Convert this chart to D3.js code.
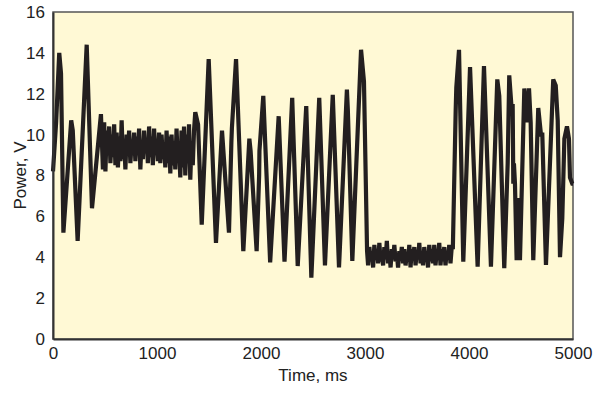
<!DOCTYPE html>
<html>
<head>
<meta charset="utf-8">
<script src="https://cdn.jsdelivr.net/npm/d3@7"></script>
<style>
  html, body { margin: 0; padding: 0; background: #fff; }
  svg { display: block; font-family: "Liberation Sans", Arial, sans-serif; }
</style>
</head>
<body>
<div id="chart"></div>
<script>
// Power trace, [time ms, volts]
const startSwings = [
  [0, 8.2], [30, 10.6], [60, 14.0], [77, 13.0], [100, 5.2], [175, 10.7], [190, 10.2],
  [237, 4.8], [324, 14.4], [375, 6.4], [461, 11.0]
]

const noiseHigh = [
  [480, 8.3], [492, 10.6], [504, 8.2], [516, 10.2], [528, 9.0], [540, 10.4], [552, 8.6],
  [564, 10.0], [576, 8.9], [588, 10.5], [600, 8.5], [612, 10.1], [624, 8.4], [636, 9.9],
  [648, 8.7], [660, 10.7], [672, 8.8], [684, 9.8], [696, 8.3], [708, 10.0], [720, 9.0],
  [732, 10.2], [744, 8.6], [756, 9.6], [768, 9.1], [780, 10.1], [792, 8.7], [804, 9.9],
  [816, 9.0], [828, 10.3], [840, 8.3], [852, 9.7], [864, 8.8], [876, 10.2], [888, 9.1],
  [900, 9.8], [912, 8.6], [924, 10.4], [936, 8.9], [948, 9.9], [960, 8.5], [972, 10.3],
  [984, 9.0], [996, 9.7], [1008, 8.7], [1020, 10.1], [1032, 8.6], [1044, 10.0], [1056, 8.8],
  [1068, 9.6], [1080, 8.4], [1092, 10.2], [1104, 8.6], [1116, 9.9], [1128, 8.1], [1140, 10.0],
  [1152, 8.5], [1164, 9.7], [1176, 8.3], [1188, 10.3], [1200, 8.7], [1212, 9.5], [1224, 7.9],
  [1236, 10.2], [1248, 8.4], [1260, 10.4], [1272, 8.0], [1284, 10.0], [1296, 8.6], [1308, 10.5],
  [1320, 7.8], [1332, 9.6], [1344, 8.5], [1356, 10.2]
]

const midSwings = [
  [1368, 11.1], [1395, 10.5], [1430, 5.6], [1497, 13.7], [1567, 4.7], [1625, 10.2],
  [1692, 5.2], [1715, 9.6], [1720, 10.3], [1760, 13.7], [1830, 4.3], [1888, 9.8],
  [1900, 9.2], [1958, 4.3], [1982, 8.0], [1985, 9.2], [2022, 11.9], [2088, 3.75],
  [2170, 10.9], [2226, 3.78], [2300, 11.8], [2353, 3.57], [2435, 11.4], [2484, 3.0],
  [2560, 11.8], [2615, 3.6], [2690, 11.95], [2750, 3.5], [2826, 12.2], [2835, 11.2],
  [2878, 3.82], [2962, 14.15], [2990, 12.6], [3020, 4.3]
]

const noiseLow = [
  [3030, 3.6], [3042, 4.5], [3054, 3.8], [3066, 4.3], [3078, 3.5], [3090, 4.6], [3102, 3.9],
  [3114, 4.4], [3126, 3.7], [3138, 4.7], [3150, 3.8], [3162, 4.2], [3174, 3.6], [3186, 4.5],
  [3198, 3.9], [3210, 4.8], [3222, 3.7], [3234, 4.3], [3246, 3.5], [3258, 4.4], [3270, 3.9],
  [3282, 4.6], [3294, 3.8], [3306, 4.2], [3318, 3.5], [3330, 4.3], [3342, 3.9], [3354, 4.5],
  [3366, 3.7], [3378, 4.4], [3390, 3.6], [3402, 4.2], [3414, 3.8], [3426, 4.6], [3438, 3.5],
  [3450, 4.4], [3462, 3.9], [3474, 4.5], [3486, 3.6], [3498, 4.3], [3510, 3.9], [3522, 4.7],
  [3534, 3.7], [3546, 4.3], [3558, 3.6], [3570, 4.5], [3582, 3.8], [3594, 4.2], [3606, 3.5],
  [3618, 4.6], [3630, 3.8], [3642, 4.4], [3654, 3.7], [3666, 4.6], [3678, 3.6], [3690, 4.3],
  [3702, 3.9], [3714, 4.7], [3726, 3.6], [3738, 4.4], [3750, 3.8], [3762, 4.5], [3774, 3.6],
  [3786, 4.3], [3798, 3.9], [3810, 4.6], [3822, 3.7], [3834, 4.5]
]

const endSwings = [
  [3845, 4.5], [3872, 11.2], [3878, 12.3], [3904, 14.15], [3945, 3.78], [4010, 13.3],
  [4083, 3.54], [4144, 13.36], [4211, 3.54], [4272, 12.7], [4291, 11.9], [4339, 3.46],
  [4372, 8.6], [4387, 12.9], [4408, 11.4], [4420, 11.4], [4426, 7.6], [4432, 8.6],
  [4442, 7.6], [4458, 3.86], [4471, 6.9], [4490, 3.86], [4532, 12.26], [4555, 10.6],
  [4577, 12.26], [4593, 10.6], [4618, 3.86], [4666, 11.3], [4692, 10.0], [4705, 10.0],
  [4740, 3.62], [4810, 12.7], [4834, 12.4], [4853, 10.7], [4875, 4.0], [4897, 5.9],
  [4917, 9.8], [4942, 10.4], [4961, 9.8], [4971, 7.9], [4993, 7.6], [5000, 7.6]
]

const xTicks = [0, 1000, 2000, 3000, 4000, 5000]
const yTicks = [0, 2, 4, 6, 8, 10, 12, 14, 16]

const trace = [...startSwings, ...noiseHigh, ...midSwings, ...noiseLow, ...endSwings]

const W = 600
const H = 394
const margin = { top: 12, right: 27, bottom: 55, left: 53 }
const innerW = W - margin.left - margin.right
const innerH = H - margin.top - margin.bottom

const svg = d3.select('#chart').append('svg')
  .attr('width', W)
  .attr('height', H)

const g = svg.append('g').attr('transform', `translate(${margin.left},${margin.top})`)

const x = d3.scaleLinear().domain([0, 5000]).range([0, innerW])
const y = d3.scaleLinear().domain([0, 16]).range([innerH, 0])

// plot background + frame
g.append('rect')
  .attr('width', innerW)
  .attr('height', innerH)
  .attr('fill', '#fff9d5')
  .attr('stroke', '#555')
  .attr('stroke-width', 1.5)

const line = d3.line()
  .x((d) => x(d[0]))
  .y((d) => y(d[1]))

g.append('path')
  .datum(trace)
  .attr('fill', 'none')
  .attr('stroke', '#231f20')
  .attr('stroke-width', 4.2)
  .attr('stroke-linejoin', 'miter')
  .attr('stroke-miterlimit', 3)
  .attr('d', line)

// axes: labels only, no tick marks
const xAxis = g.append('g')
  .attr('transform', `translate(0,${innerH})`)
  .call(d3.axisBottom(x).tickValues(xTicks).tickSize(0).tickPadding(8).tickFormat(d3.format('d')))
xAxis.select('.domain').attr('stroke', '#333').attr('stroke-width', 2)
xAxis.selectAll('text').attr('font-size', 17).attr('fill', '#222').attr('font-family', null)

const yAxis = g.append('g')
  .call(d3.axisLeft(y).tickValues(yTicks).tickSize(0).tickPadding(8).tickFormat(d3.format('d')))
yAxis.select('.domain').attr('stroke', '#333').attr('stroke-width', 2)
yAxis.selectAll('text').attr('font-size', 17).attr('fill', '#222').attr('font-family', null)

svg.append('text')
  .attr('x', margin.left + innerW / 2)
  .attr('y', 381)
  .attr('text-anchor', 'middle')
  .attr('font-size', 17)
  .attr('fill', '#222')
  .text('Time, ms')

svg.append('text')
  .attr('transform', `translate(26,${margin.top + innerH / 2}) rotate(-90)`)
  .attr('text-anchor', 'middle')
  .attr('font-size', 17)
  .attr('fill', '#222')
  .text('Power, V')
</script>
</body>
</html>
